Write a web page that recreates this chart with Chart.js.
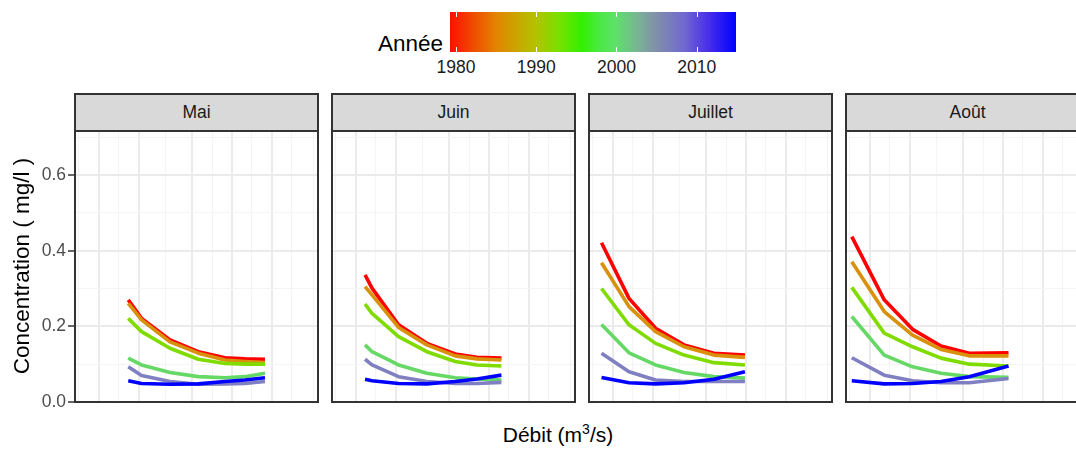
<!DOCTYPE html>
<html lang="fr">
<head>
<meta charset="UTF-8">
<title>Concentration selon le débit</title>
<script src="https://cdn.jsdelivr.net/npm/chart.js"></script>
<style>
  body { margin: 0; background: #fff; font-family: "Liberation Sans", Arial, sans-serif; }
  #wrap { position: relative; width: 1076px; height: 450px; overflow: hidden; }
  .panel { position: absolute; top: 93px; width: 245px; height: 310px; box-sizing: border-box;
           border: 2px solid #333; z-index: 2; pointer-events: none; }
  .strip { height: 37px; box-sizing: border-box; border-bottom: 2px solid #333; background: #d9d9d9;
           color: #1a1a1a; font-size: 17.5px; line-height: 34px; text-align: center; }
  canvas { position: absolute; top: 130px; }
  #legTitre { position: absolute; left: 378px; top: 31px; font-size: 22.5px; color: #000; }
  #barre { position: absolute; left: 450px; top: 12px; width: 286px; height: 40px;
           background: linear-gradient(to right, #ff1000 0%, #f04a00 8%, #e38300 16%, #c8a800 24%,
             #b3c200 30%, #7ae000 38%, #33f000 46%, #4ee84a 53%, #5ee06a 58%, #7ab296 66%,
             #8090a8 72%, #7068d0 82%, #4a30e8 90%, #0000ff 100%); }
  .trait { position: absolute; width: 1px; height: 5px; background: #fff; }
  .annee { position: absolute; top: 57px; font-size: 17.5px; color: #1a1a1a; transform: translateX(-50%); }
  #titreX { position: absolute; left: 0; width: 1116px; top: 423px; text-align: center; font-size: 21px; color: #000; }
  #titreX sup { font-size: 14px; line-height: 0; }
</style>
</head>
<body>
<div id="wrap">
  <div id="legTitre">Année</div>
  <div id="barre"></div>
  <div id="titreX">Débit (m<sup>3</sup>/s)</div>
</div>
<script>
const mois = ['Mai', 'Juin', 'Juillet', 'Août'];
const annees = [1980, 1985, 1993, 2000, 2007, 2015];
const couleurs = ['#ff0000', '#d9900a', '#80dc00', '#66d866', '#7f7fc2', '#0000ff'];
const anneesBarre = [1980, 1990, 2000, 2010];

// débit (m3/s) des points de chaque courbe
const debitMai = [16.6, 20.9, 34.2, 55.8, 88.5, 125, 177];
const debitJuin = [11.7, 13.2, 20.9, 34.1, 55.7, 81.1, 124];
const debitJuillet = [8.2, 13.2, 20.9, 34.2, 57.4, 98.2];
const debitAout = [7.3, 12.8, 20.9, 34.2, 55.8, 110];

// concentrations (mg/l), une ligne par année (même ordre que annees)
const concMai = [
  [0.270, 0.221, 0.164, 0.133, 0.117, 0.114, 0.113],
  [0.261, 0.217, 0.159, 0.129, 0.111, 0.107, 0.104],
  [0.221, 0.186, 0.142, 0.113, 0.102, 0.100, 0.100],
  [0.116, 0.098, 0.078, 0.067, 0.064, 0.067, 0.076],
  [0.093, 0.070, 0.054, 0.047, 0.048, 0.049, 0.054],
  [0.056, 0.049, 0.047, 0.048, 0.054, 0.058, 0.064]
];
const concJuin = [
  [0.336, 0.301, 0.204, 0.155, 0.127, 0.118, 0.116],
  [0.305, 0.283, 0.197, 0.151, 0.122, 0.114, 0.111],
  [0.259, 0.234, 0.173, 0.133, 0.107, 0.098, 0.095],
  [0.151, 0.133, 0.098, 0.076, 0.064, 0.061, 0.058],
  [0.113, 0.098, 0.067, 0.054, 0.049, 0.049, 0.052],
  [0.060, 0.056, 0.049, 0.048, 0.054, 0.061, 0.071]
];
const concJuillet = [
  [0.421, 0.274, 0.195, 0.151, 0.129, 0.124],
  [0.368, 0.252, 0.186, 0.146, 0.124, 0.118],
  [0.300, 0.204, 0.155, 0.124, 0.104, 0.098],
  [0.205, 0.130, 0.098, 0.078, 0.067, 0.063],
  [0.129, 0.080, 0.058, 0.054, 0.054, 0.054],
  [0.065, 0.051, 0.048, 0.051, 0.060, 0.080]
];
const concAout = [
  [0.437, 0.270, 0.192, 0.148, 0.129, 0.130],
  [0.371, 0.239, 0.177, 0.139, 0.122, 0.122],
  [0.303, 0.182, 0.146, 0.116, 0.100, 0.095],
  [0.226, 0.124, 0.093, 0.076, 0.067, 0.065],
  [0.117, 0.071, 0.056, 0.051, 0.051, 0.062],
  [0.056, 0.048, 0.049, 0.054, 0.067, 0.095]
];

// grilles : majeures / mineures
const xMajeurs = [10, 20, 50, 100, 200];
const xMineurs = [7.07, 14.1, 31.6, 70.8, 141, 282, 407];
const yMajeurs = [0, 0.2, 0.4, 0.6];
const yMineurs = [0.1, 0.3, 0.5, 0.7];

const debits = [debitMai, debitJuin, debitJuillet, debitAout];
const concs = [concMai, concJuin, concJuillet, concAout];

Chart.defaults.font.family = '"Liberation Sans", Arial, sans-serif';
Chart.defaults.animation = false;

const wrap = document.getElementById('wrap');

// échelle de couleur de la légende
const anMin = 1979.25, anMax = 2014.9;
anneesBarre.forEach(a => {
  const x = 450 + (a - anMin) / (anMax - anMin) * 286;
  const haut = document.createElement('div');
  haut.className = 'trait';
  haut.style.left = x + 'px'; haut.style.top = '12px';
  const bas = haut.cloneNode();
  bas.style.top = '47px';
  const lab = document.createElement('div');
  lab.className = 'annee';
  lab.style.left = x + 'px';
  lab.textContent = a;
  wrap.append(haut, bas, lab);
});

const panelLeft = [74, 331, 588, 845];

mois.forEach((m, i) => {
  const axeW = i === 0 ? 74 : 0;

  const panel = document.createElement('div');
  panel.className = 'panel';
  panel.style.left = panelLeft[i] + 'px';
  const strip = document.createElement('div');
  strip.className = 'strip';
  strip.textContent = m;
  panel.appendChild(strip);
  wrap.appendChild(panel);

  const canvas = document.createElement('canvas');
  canvas.style.left = (panelLeft[i] - axeW) + 'px';
  canvas.style.width = (axeW + 245) + 'px';
  canvas.style.height = '292px';
  canvas.width = axeW + 245;
  canvas.height = 292;
  wrap.appendChild(canvas);

  const datasets = annees.map((a, j) => ({
    label: String(a),
    data: debits[i].map((x, k) => ({ x: x, y: concs[i][j][k] })),
    borderColor: couleurs[j],
    borderWidth: 3.6,
    borderJoinStyle: 'round',
    pointRadius: 0,
    tension: 0,
    fill: false,
    order: annees.length - j
  }));

  new Chart(canvas, {
    type: 'line',
    data: { datasets },
    options: {
      responsive: false,
      layout: { padding: { left: 0, right: 0, top: 0, bottom: 20 } },
      plugins: { legend: { display: false }, tooltip: { enabled: false } },
      scales: {
        x: {
          type: 'logarithmic',
          min: 6.49,
          max: 451,
          border: { display: false },
          ticks: { display: false },
          grid: {
            drawTicks: false,
            color: c => (c.tick && xMajeurs.includes(c.tick.value)) ? '#ebebeb' : '#f4f4f4',
            lineWidth: c => (c.tick && xMajeurs.includes(c.tick.value)) ? 2 : 1
          },
          afterBuildTicks: s => {
            s.ticks = xMajeurs.concat(xMineurs).map(v => ({ value: v }));
          },
          afterFit: s => { s.height = 0; s.paddingLeft = 0; s.paddingRight = 0; }
        },
        y: {
          type: 'linear',
          min: 0,
          max: 0.719,
          border: { display: false },
          title: {
            display: i === 0,
            text: 'Concentration ( mg/l )',
            color: '#000',
            font: { size: 22.5 },
            padding: { top: 9, bottom: 0 }
          },
          ticks: {
            display: i === 0,
            autoSkip: false,
            color: '#4d4d4d',
            font: { size: 17.5 },
            padding: 2,
            callback: v => yMajeurs.includes(v) ? v.toFixed(1) : ''
          },
          grid: {
            drawTicks: i === 0,
            tickLength: 6,
            tickWidth: 1.5,
            tickColor: c => (c.tick && yMajeurs.includes(c.tick.value)) ? '#333' : 'rgba(0,0,0,0)',
            color: c => (c.tick && yMajeurs.includes(c.tick.value)) ? '#ebebeb' : '#f4f4f4',
            lineWidth: c => (c.tick && yMajeurs.includes(c.tick.value)) ? 2 : 1
          },
          afterBuildTicks: s => {
            s.ticks = yMajeurs.concat(yMineurs).map(v => ({ value: v }));
          },
          afterFit: s => { s.width = axeW; s.paddingTop = 0; s.paddingBottom = 0; }
        }
      }
    }
  });
});
</script>
</body>
</html>
